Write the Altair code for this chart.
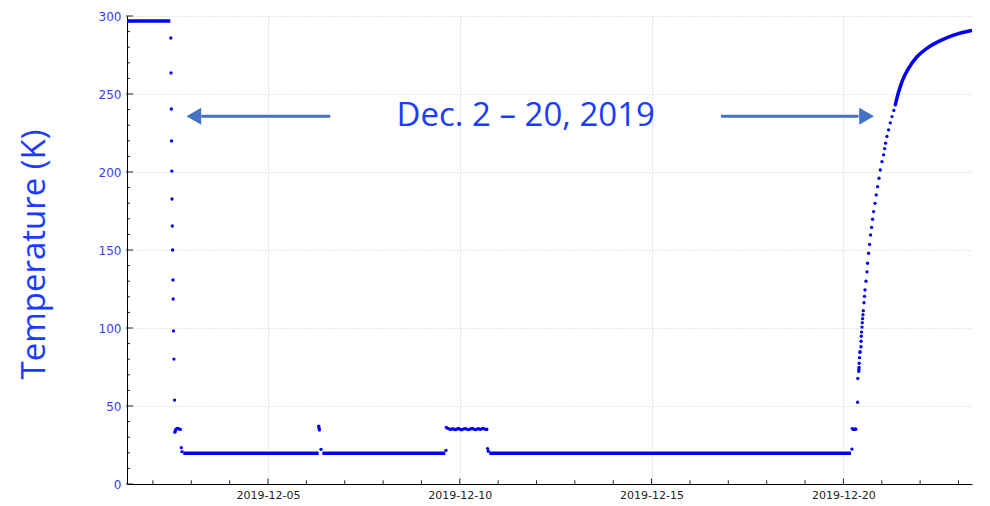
import altair as alt
import pandas as pd

# Time is expressed as days elapsed since 2019-12-01 00:00
x_domain = [0.324, 22.353]
y_domain = [0, 300]

# flat plateaus (start day, end day, temperature K)
plateau_start = [0.324, 1.792, 5.416, 9.769]
plateau_end = [1.453, 5.319, 8.622, 19.198]
plateau_temp = [296.8, 19.7, 19.7, 19.7]

# individual samples (cool-down, spikes, 35 K holds, start of warm-up)
pt_days = [
    1.466, 1.471, 1.479, 1.484, 1.492, 1.497, 1.505, 1.513, 1.521, 1.528, 1.536, 1.547, 1.565,
    1.570, 1.583, 1.596, 1.609, 1.635, 1.662, 1.688, 1.714, 1.740, 1.758,
    5.322, 5.330, 5.340, 5.382,
    8.640, 8.648, 8.69, 8.73, 8.77, 8.81, 8.85, 8.89, 8.93, 8.97, 9.01, 9.05, 9.09, 9.13,
    9.17, 9.21, 9.25, 9.29, 9.33, 9.37, 9.41, 9.45, 9.49, 9.53, 9.57, 9.61, 9.65, 9.69,
    9.704, 9.725, 9.743,
    19.224, 19.232, 19.25, 19.27, 19.29, 19.31, 19.323,
    19.370, 19.375, 19.400, 19.404, 19.408, 19.412, 19.420, 19.428, 19.436, 19.459,
    19.462, 19.467, 19.474, 19.485, 19.493, 19.500, 19.511, 19.519, 19.537, 19.550,
    19.563, 19.589, 19.615, 19.631, 19.657, 19.683, 19.709, 19.735, 19.761, 19.787,
    19.824, 19.857, 19.891, 19.928, 19.962, 20.006, 20.048, 20.075, 20.100, 20.136,
    20.178, 20.223, 20.267, 20.314, 20.353,
]
pt_temp = [
    285.9, 263.5, 240.4, 219.9, 200.6, 182.7, 165.4, 150.0, 130.8, 118.6, 98.1, 80.1, 53.8,
    33.2, 34.0, 34.8, 35.3, 35.6, 35.5, 35.2, 35.0, 23.3, 20.7,
    37.0, 35.8, 34.6, 22.2,
    21.6, 36.2, 35.6, 35.2, 35.0, 35.4, 35.1, 34.8, 35.3, 35.6, 35.0, 34.7, 35.2, 35.5,
    35.3, 34.9, 35.0, 35.4, 35.6, 35.1, 34.8, 35.2, 35.5, 35.0, 35.3, 35.6, 35.2, 35.0,
    35.1, 22.7, 21.0,
    22.4, 35.5, 35.2, 35.0, 35.0, 35.3, 35.1,
    52.4, 67.7, 72.2, 73.5, 74.8, 77.4, 81.0, 84.4, 84.8, 88.0,
    91.5, 94.7, 97.4, 100.6, 103.4, 106.0, 108.5, 111.1, 116.2, 120.3,
    124.4, 130.0, 136.0, 141.5, 147.9, 153.6, 159.6, 164.5, 169.7, 174.6,
    179.9, 185.3, 190.6, 196.0, 201.3, 206.6, 211.0, 215.0, 218.5, 222.8,
    227.0, 231.5, 235.5, 239.5, 243.0,
]

# dense end of the warm-up
warm_days = [20.353, 20.397, 20.528, 20.700, 20.919, 21.180, 21.526, 21.873, 22.309, 22.353]
warm_temp = [243.0, 247.5, 257.9, 266.5, 273.9, 279.3, 284.2, 287.8, 290.6, 290.8]

# axis ticks
y_major = [0, 50, 100, 150, 200, 250, 300]
y_minor = [v for v in range(10, 300, 10) if v % 50]
x_major = [4, 9, 14, 19]
x_minor = [d for d in range(1, 23) if d not in x_major]

# annotation
title_text = "Dec. 2 \u2013 20, 2019"
title_day, title_temp = 10.72, 229.6
arrow_start = [5.624, 15.809]
arrow_end = [2.261, 19.396]
arrow_head_day = [2.066, 19.605]
arrow_head_shape = ["triangle-left", "triangle-right"]
arrow_temp = 235.7

W, H = 845, 468
BLUE = "#0000ff"
ARROW = "#4472c4"

xs = alt.Scale(domain=x_domain, nice=False, zero=False)
ys = alt.Scale(domain=y_domain, nice=False, zero=False)

plateaus = pd.DataFrame({"s": plateau_start, "e": plateau_end, "t": plateau_temp})
points = pd.DataFrame({"d": pt_days, "t": pt_temp})
warm = pd.DataFrame({"d": warm_days, "t": warm_temp})

base_axis = alt.Chart(pd.DataFrame({"d": [x_domain[0]], "t": [0]})).mark_point(opacity=0).encode(
    x=alt.X("d:Q", scale=xs, axis=alt.Axis(
        values=x_major, grid=True, ticks=False, tickSize=0, labelPadding=5,
        labelExpr="'2019-12-' + (datum.value + 1 < 10 ? '0' : '') + (datum.value + 1)",
        labelFont="DejaVu Sans", labelFontSize=11, labelColor="#222222", labelFlush=False,
        title=None, domainColor="#000000")),
    y=alt.Y("t:Q", scale=ys, axis=alt.Axis(
        values=y_major, grid=True, ticks=False, tickSize=0, labelPadding=6,
        labelFont="DejaVu Sans", labelFontSize=12, labelColor="#3a3aff",
        title="Temperature (K)", titleFont="Open Sans", titleFontSize=33,
        titleFontWeight="normal", titleColor="#1a3cff", titleAngle=270,
        titleX=-92.7, titleY=238, titleAlign="center", titleBaseline="middle",
        domainColor="#000000")),
)

plat = alt.Chart(plateaus).mark_rule(color=BLUE, strokeWidth=3.5).encode(
    x=alt.X("s:Q", scale=xs), x2="e:Q", y=alt.Y("t:Q", scale=ys))

dots = alt.Chart(points).mark_circle(color=BLUE, size=11, opacity=1).encode(
    x=alt.X("d:Q", scale=xs), y=alt.Y("t:Q", scale=ys))

warm_line = alt.Chart(warm).mark_line(color=BLUE, strokeWidth=3.5, interpolate="monotone").encode(
    x=alt.X("d:Q", scale=xs), y=alt.Y("t:Q", scale=ys))

ytick_minor = alt.Chart(pd.DataFrame({"t": y_minor})).mark_rule(color="#222222").encode(
    x=alt.value(0), x2=alt.value(3), y=alt.Y("t:Q", scale=ys))
ytick_major = alt.Chart(pd.DataFrame({"t": y_major})).mark_rule(color="#222222").encode(
    x=alt.value(-1), x2=alt.value(6), y=alt.Y("t:Q", scale=ys))
xtick_minor = alt.Chart(pd.DataFrame({"d": x_minor})).mark_rule(color="#222222").encode(
    x=alt.X("d:Q", scale=xs), y=alt.value(H - 3.7), y2=alt.value(H))
xtick_major = alt.Chart(pd.DataFrame({"d": x_major})).mark_rule(color="#222222").encode(
    x=alt.X("d:Q", scale=xs), y=alt.value(H - 5.5), y2=alt.value(H + 1))

arrows = pd.DataFrame({"s": arrow_start, "e": arrow_end, "t": [arrow_temp] * 2})
arrow_lines = alt.Chart(arrows).mark_rule(color=ARROW, strokeWidth=3).encode(
    x=alt.X("s:Q", scale=xs), x2="e:Q", y=alt.Y("t:Q", scale=ys))
heads = pd.DataFrame({"d": arrow_head_day, "t": [arrow_temp] * 2, "shape": arrow_head_shape})
arrow_heads = alt.Chart(heads).mark_point(filled=True, color=ARROW, opacity=1, size=290).encode(
    x=alt.X("d:Q", scale=xs), y=alt.Y("t:Q", scale=ys),
    shape=alt.Shape("shape:N", scale=None, legend=None))

title = alt.Chart(pd.DataFrame({"d": [title_day], "t": [title_temp], "txt": [title_text]})).mark_text(
    font="Open Sans", fontSize=33, color="#1a3cff", align="center", baseline="alphabetic").encode(
    x=alt.X("d:Q", scale=xs), y=alt.Y("t:Q", scale=ys), text="txt:N")

chart = alt.layer(
    base_axis, plat, dots, warm_line, ytick_minor, ytick_major, xtick_minor, xtick_major,
    arrow_lines, arrow_heads, title
).properties(
    width=W, height=H,
    autosize=alt.AutoSizeParams(type="none"),
    padding={"left": 119, "top": 8, "right": 3, "bottom": 16},
).configure_view(stroke=None).configure_axis(
    gridColor="#cccccc", gridDash=[1, 2], gridWidth=1, domainWidth=1
)

chart.save("out.html", embed_options={"renderer": "svg", "actions": False})
